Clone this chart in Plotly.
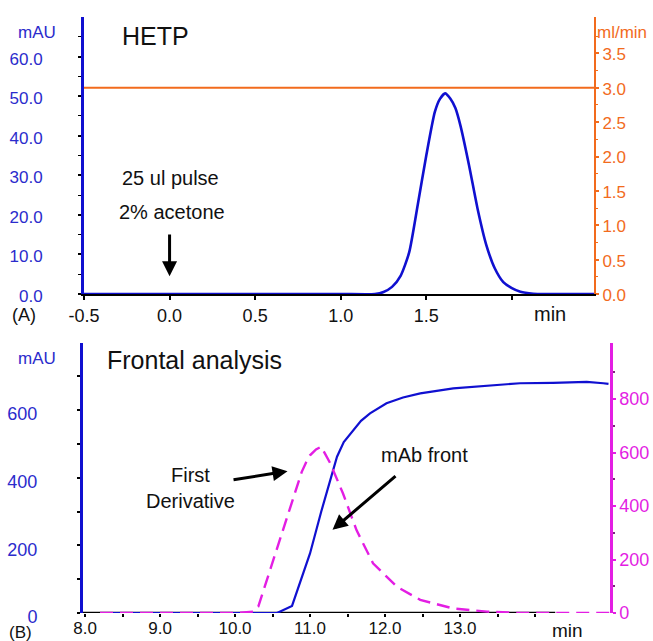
import plotly.graph_objects as go

# ---------------- data ----------------
# Panel A: HETP pulse (mAU vs min) and flow rate (ml/min)
hetp_time = [-0.5, 0.0, 0.5, 1.0, 1.20, 1.25, 1.30, 1.35, 1.40, 1.45, 1.50, 1.55, 1.58,
             1.61, 1.64, 1.67, 1.70, 1.75, 1.80, 1.85, 1.90, 1.95, 2.00, 2.05, 2.10, 2.15, 2.48]
hetp_abs = [0.0, 0.0, 0.0, 0.0, 0.0, 0.5, 1.8, 4.6, 10.5, 22.5, 35.0, 46.0, 49.3,
            50.7, 49.4, 47.0, 42.5, 32.5, 21.5, 12.5, 6.5, 3.0, 1.5, 0.6, 0.2, 0.0, 0.0]
flow_time = [-0.5, 2.48]
flow_rate = [3.0, 3.0]

# Panel B: frontal analysis (mAU vs min) and first derivative
front_time = [8.2, 9.0, 10.0, 10.56, 10.76, 11.0, 11.15, 11.27, 11.36, 11.45, 11.58, 11.68,
              11.8, 12.02, 12.24, 12.47, 12.91, 13.36, 13.8, 14.24, 14.69, 14.91, 14.98]
front_abs = [0, 0, 0, 0, 21, 176, 300, 390, 462, 505, 541, 568,
             590, 620, 637, 649, 664, 671, 679, 680, 683, 679, 677]
deriv_time = [8.2, 9.0, 10.0, 10.24, 10.31, 10.6, 10.89, 10.95, 11.0, 11.08, 11.15, 11.27,
              11.44, 11.62, 11.84, 12.16, 12.47, 12.91, 13.36, 13.8, 14.5, 15.0]
deriv_val = [0, 0, 0, 5, 24, 276, 528, 565, 590, 612, 622, 560,
             447, 310, 186, 98, 49, 17, 5, 0, 0, 0]

a_x_ticks = [-0.5, 0.0, 0.5, 1.0, 1.5, 2.0]
a_x_labels = ["-0.5", "0.0", "0.5", "1.0", "1.5", ""]
a_y_ticks = [0, 10, 20, 30, 40, 50, 60]
a_y_labels = ["0.0", "10.0", "20.0", "30.0", "40.0", "50.0", "60.0"]
a_y2_ticks = [0, 0.5, 1.0, 1.5, 2.0, 2.5, 3.0, 3.5]
a_y2_labels = ["0.0", "0.5", "1.0", "1.5", "2.0", "2.5", "3.0", "3.5"]
b_x_ticks = [8, 9, 10, 11, 12, 13]
b_x_labels = ["8.0", "9.0", "10.0", "11.0", "12.0", "13.0"]
b_y_ticks = [0, 200, 400, 600]
b_y2_ticks = [0, 200, 400, 600, 800]

# ---------------- style ----------------
W, H = 653, 641
FONT = "Liberation Sans, Arial, Helvetica, sans-serif"
BLUE = "#1010d0"
LBLUE = "#2b2bcc"
ORANGE = "#f26b1d"
MAGENTA = "#e31ee3"
INK = "#111111"


def px(x):
    return x / W


def py(y):
    return 1 - y / H


fig = go.Figure()
fig.add_trace(go.Scatter(x=hetp_time, y=hetp_abs, xaxis="x", yaxis="y", mode="lines",
                         line=dict(color=BLUE, width=2.6, shape="spline", smoothing=0.6),
                         showlegend=False))
fig.add_trace(go.Scatter(x=flow_time, y=flow_rate, xaxis="x", yaxis="y2", mode="lines",
                         line=dict(color=ORANGE, width=2), showlegend=False))
fig.add_trace(go.Scatter(x=deriv_time, y=deriv_val, xaxis="x2", yaxis="y4", mode="lines",
                         line=dict(color=MAGENTA, width=2.4, dash="13px,7px"),
                         showlegend=False))
fig.add_trace(go.Scatter(x=front_time, y=front_abs, xaxis="x2", yaxis="y3", mode="lines",
                         line=dict(color=BLUE, width=2.2), showlegend=False))

common = dict(showgrid=False, zeroline=False, automargin=False)

fig.update_layout(
    template="none",
    width=W, height=H, autosize=False,
    margin=dict(l=0, r=0, t=0, b=0, pad=0),
    paper_bgcolor="white", plot_bgcolor="white",
    font=dict(family=FONT, color=INK),
    xaxis=dict(domain=[px(84), px(594)], anchor="y", range=[-0.5, 2.48],
               tickvals=a_x_ticks, ticktext=a_x_labels,
               showline=True, linecolor="black", linewidth=2, layer="below traces",
               ticks="outside", ticklen=4, tickwidth=1.5, tickcolor="black",
               tickfont=dict(size=18, color=INK), **common),
    yaxis=dict(domain=[py(294), py(17)], anchor="x", range=[0, 70],
               tickvals=a_y_ticks, ticktext=a_y_labels,
               showline=True, linecolor=BLUE, linewidth=3,
               ticks="outside", ticklen=3, tickwidth=1.5, tickcolor="black",
               ticklabelstandoff=32, ticklabelshift=2,
               minor=dict(tickvals=[5, 15, 25, 35, 45, 55, 65], ticklen=3,
                          tickcolor="black", tickwidth=1.2),
               tickfont=dict(size=17, color=LBLUE), **common),
    yaxis2=dict(overlaying="y", side="right", anchor="x", range=[0, 4.03],
                tickvals=a_y2_ticks, ticktext=a_y2_labels,
                showline=True, linecolor=ORANGE, linewidth=2,
                ticks="outside", ticklen=3, tickwidth=1.5, tickcolor=ORANGE,
                ticklabelshift=1,
                minor=dict(tickvals=[0.25, 0.75, 1.25, 1.75, 2.25, 2.75, 3.25, 3.75],
                           ticklen=2, tickcolor=ORANGE, tickwidth=1),
                tickfont=dict(size=17, color=ORANGE), **common),
    xaxis2=dict(domain=[px(83), px(610)], anchor="y3", range=[7.973, 15.0],
                tickvals=b_x_ticks, ticktext=b_x_labels,
                showline=False,
                ticks="outside", ticklen=3, tickwidth=1.5, tickcolor="black",
                ticklabelstandoff=-3,
                minor=dict(tickvals=[8.5, 9.5, 10.5, 11.5, 12.5, 13.5, 14.0],
                           ticklen=3, tickcolor="black", tickwidth=1.5),
                tickfont=dict(size=17, color=INK), **common),
    yaxis3=dict(domain=[py(613), py(343)], anchor="x2", range=[0, 798],
                tickvals=b_y_ticks,
                showline=True, linecolor=BLUE, linewidth=3,
                ticks="outside", ticklen=3, tickwidth=1.5, tickcolor="black",
                ticklabelstandoff=36, ticklabelshift=4,
                minor=dict(tickvals=[100, 300, 500, 700], ticklen=3,
                           tickcolor="black", tickwidth=1.5),
                tickfont=dict(size=18, color=LBLUE), **common),
    yaxis4=dict(overlaying="y3", side="right", anchor="x2", range=[0, 1010],
                tickvals=b_y2_ticks,
                showline=True, linecolor=MAGENTA, linewidth=2.5,
                ticks="outside", ticklen=3, tickwidth=1.5, tickcolor=MAGENTA,
                minor=dict(tickvals=[100, 300, 500, 700, 900], ticklen=2,
                           tickcolor="#7a2a7a", tickwidth=1.5),
                tickfont=dict(size=18, color=MAGENTA), **common),
)

# black time axis of panel B (stops before the right edge, as in the original)
fig.add_shape(type="line", xref="x2", yref="y3", x0=7.973, x1=14.27, y0=0, y1=0,
              line=dict(color="black", width=2.5), layer="below")


def text(t, x, y, size=20, color=INK, xanchor="center"):
    fig.add_annotation(text=t, x=px(x), y=py(y), xref="paper", yref="paper",
                       showarrow=False, xanchor=xanchor, yanchor="middle",
                       borderpad=0,
                       font=dict(size=size, color=color, family=FONT))


text("HETP", 121, 36, size=25, xanchor="left")
text("25 ul pulse", 171, 178, size=20)
text("2% acetone", 172, 212, size=20)
text("(A)", 24, 315, size=18)
text("min", 550, 314, size=20)
text("mAU", 37, 33, size=17, color=LBLUE)
text("ml/min", 596, 33, size=17, color=ORANGE, xanchor="left")

text("Frontal analysis", 106, 360, size=25, xanchor="left")
text("mAU", 37, 358, size=17, color=LBLUE)
text("First<br>Derivative", 190, 488, size=20)
text("mAb front", 424, 455, size=20)
text("(B)", 20, 632, size=17)
text("min", 567, 630, size=19)


def arrow(xref, yref, x, y, ax, ay):
    fig.add_annotation(text="", xref=xref, yref=yref, axref=xref, ayref=yref,
                       x=x, y=y, ax=ax, ay=ay, showarrow=True,
                       arrowhead=2, arrowsize=1.0, arrowwidth=3, arrowcolor="black",
                       standoff=0, startstandoff=0)


arrow("x", "y", 0.0, 4.5, 0.0, 15.4)          # injection pulse
arrow("x2", "y3", 10.70, 419, 9.96, 393)       # first derivative
arrow("x2", "y3", 11.30, 246, 12.16, 408)      # mAb front

fig.write_html("out.html")
